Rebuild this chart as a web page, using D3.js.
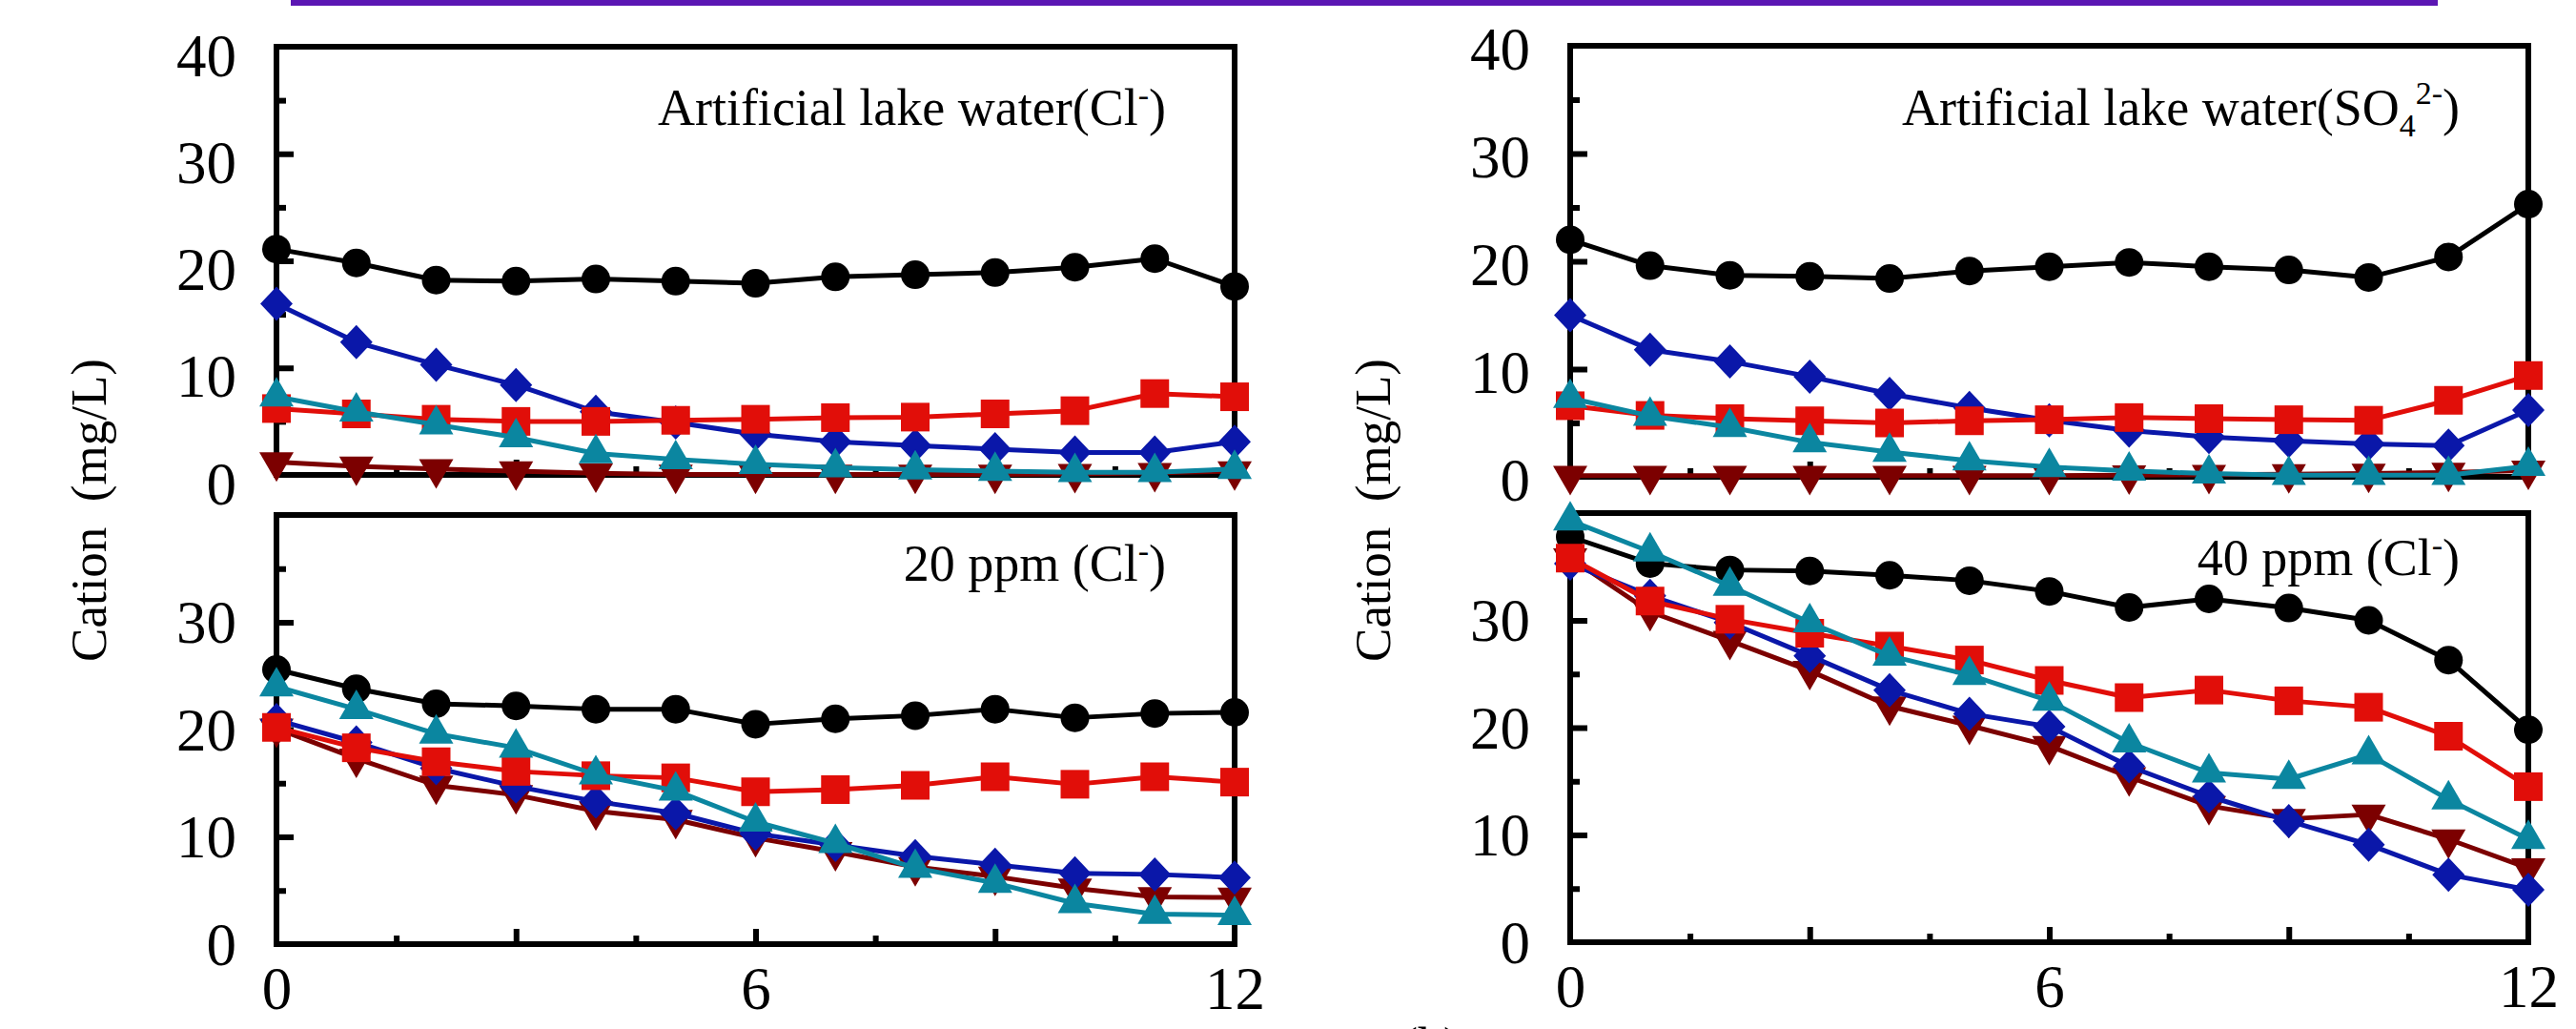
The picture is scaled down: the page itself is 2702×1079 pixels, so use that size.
<!DOCTYPE html>
<html><head><meta charset="utf-8">
<script src="https://cdn.jsdelivr.net/npm/d3@7"></script>
<style>body{margin:0;background:#fff;} svg{display:block;}</style>
</head><body>
<svg id="c" width="2702" height="1079"></svg>
<script>
// ---------- data ----------
const hours = [0,1,2,3,4,5,6,7,8,9,10,11,12];
const xTickLabels = [0,6,12];
const yTickLabelsTop = [0,10,20,30,40];
const yTickLabelsBottom = [0,10,20,30];
const panelTitles = ["Artificial lake water(Cl-)", "20 ppm (Cl-)", "Artificial lake water(SO4 2-)", "40 ppm (Cl-)"];
const yAxisTitle = "Cation\u2002(mg/L)";
const xAxisTitle = "Time\u2002(h)";

// Artificial lake water (Cl-)
const lakeClBlack   = [21.1,19.8,18.2,18.1,18.3,18.1,17.9,18.5,18.7,18.9,19.4,20.2,17.6];
const lakeClBlue    = [16.0,12.4,10.3,8.4,5.9,4.9,3.8,3.1,2.75,2.4,2.1,2.1,3.1];
const lakeClRed     = [6.2,5.7,5.2,5.0,5.0,5.1,5.2,5.35,5.4,5.7,6.0,7.6,7.3];
const lakeClTeal    = [7.3,5.9,4.7,3.5,2.0,1.45,1.0,0.7,0.5,0.35,0.25,0.25,0.55];
const lakeClDarkRed = [1.2,0.8,0.55,0.35,0.15,0.05,0.05,0.05,0.05,0.05,0.1,0.2,0.35];

// 20 ppm (Cl-)
const ppm20Black   = [25.6,23.8,22.4,22.2,21.9,21.9,20.5,21.0,21.3,21.9,21.1,21.5,21.6];
const ppm20Blue    = [20.9,18.8,16.4,14.7,13.3,12.2,10.3,9.25,8.2,7.4,6.6,6.5,6.2];
const ppm20Red     = [20.2,18.3,17.0,16.1,15.7,15.5,14.2,14.4,14.8,15.6,14.9,15.6,15.1];
const ppm20Teal    = [24.0,21.9,19.6,18.3,15.8,14.3,11.4,9.4,7.1,5.7,3.8,2.8,2.7];
const ppm20DarkRed = [20.1,17.3,14.8,13.9,12.4,11.6,9.9,8.6,7.2,6.3,5.2,4.4,4.35];

// Artificial lake water (SO4 2-)
const lakeSO4Black   = [22.0,19.6,18.7,18.6,18.4,19.1,19.5,19.9,19.5,19.2,18.5,20.4,25.3];
const lakeSO4Blue    = [15.0,11.8,10.7,9.3,7.7,6.4,5.25,4.3,3.7,3.35,3.05,2.9,6.2];
const lakeSO4Red     = [6.6,5.7,5.4,5.2,5.0,5.2,5.3,5.5,5.4,5.3,5.25,7.1,9.4];
const lakeSO4Teal    = [7.3,5.65,4.6,3.2,2.3,1.5,0.9,0.55,0.3,0.15,0.15,0.15,1.0];
const lakeSO4DarkRed = [0.1,0.1,0.1,0.1,0.1,0.1,0.1,0.15,0.2,0.25,0.3,0.4,0.6];

// 40 ppm (Cl-)
const ppm40Black   = [37.8,35.3,34.7,34.6,34.2,33.7,32.7,31.2,32.0,31.15,30.0,26.3,19.8];
const ppm40Blue    = [35.3,32.3,29.8,26.7,23.5,21.3,20.1,16.4,13.6,11.3,9.1,6.3,4.9];
const ppm40Red     = [35.8,31.8,30.1,28.8,27.6,26.3,24.4,22.8,23.5,22.5,21.9,19.2,14.5];
const ppm40Teal    = [39.3,36.4,33.2,29.8,26.7,24.9,22.5,18.6,15.8,15.2,17.5,13.3,9.6];
const ppm40DarkRed = [35.8,30.8,28.1,25.3,22.0,20.2,18.3,15.4,12.7,11.5,11.9,9.6,6.9];

// ---------- styles / layout ----------
const colors = {black:"#000000", red:"#e10e09", blue:"#0a17a9", teal:"#0b86a0", darkred:"#7c0000"};
const FONT = "'Liberation Serif','Times New Roman',serif";

const shapes = {
  circle: d3.symbol().type(d3.symbolCircle).size(Math.PI*15*15)(),
  square: "M-15,-15H15V15H-15Z",
  diamond: "M0,-18L17,0L0,18L-17,0Z",
  triUp: "M0,-20.7L18,10.3L-18,10.3Z",
  triDown: "M0,20.7L18,-10.3L-18,-10.3Z"
};

const panels = [
  {x0:290, x1:1295, yb:498, yt:49, lblOff:9, xLabels:false, yLabels:yTickLabelsTop, title:0, titleY:131,
   series:[["darkred",lakeClDarkRed,"triDown"],["blue",lakeClBlue,"diamond"],["black",lakeClBlack,"circle"],["red",lakeClRed,"square"],["teal",lakeClTeal,"triUp"]]},
  {x0:290, x1:1295, yb:990, yt:540, lblOff:0, xLabels:true, yLabels:yTickLabelsBottom, title:1, titleY:609,
   series:[["darkred",ppm20DarkRed,"triDown"],["blue",ppm20Blue,"diamond"],["black",ppm20Black,"circle"],["red",ppm20Red,"square"],["teal",ppm20Teal,"triUp"]]},
  {x0:1647, x1:2652, yb:500, yt:48, lblOff:3, xLabels:false, yLabels:yTickLabelsTop, title:2, titleY:131,
   series:[["darkred",lakeSO4DarkRed,"triDown"],["blue",lakeSO4Blue,"diamond"],["black",lakeSO4Black,"circle"],["red",lakeSO4Red,"square"],["teal",lakeSO4Teal,"triUp"]]},
  {x0:1647, x1:2652, yb:988, yt:538, lblOff:0, xLabels:true, yLabels:yTickLabelsBottom, title:3, titleY:603,
   series:[["darkred",ppm40DarkRed,"triDown"],["blue",ppm40Blue,"diamond"],["black",ppm40Black,"circle"],["red",ppm40Red,"square"],["teal",ppm40Teal,"triUp"]]}
];

const svg = d3.select("#c");
svg.append("rect").attr("width",2702).attr("height",1079).attr("fill","#fff");

// purple rule at the very top
svg.append("rect").attr("x",305).attr("y",0).attr("width",2252).attr("height",6).attr("fill","#5b16b3");

function styleTicks(sel){
  sel.select(".domain").remove();
  sel.selectAll(".tick line").attr("stroke","#000").attr("stroke-width",6);
}

panels.forEach(p => {
  const x = d3.scaleLinear().domain([0,12]).range([p.x0,p.x1]);
  const y = d3.scaleLinear().domain([0,40]).range([p.yb,p.yt]);
  const g = svg.append("g");

  // y major/minor ticks (inward)
  g.append("g").attr("transform",`translate(${p.x0},0)`)
    .call(d3.axisLeft(y).tickValues([10,20,30]).tickSize(-18).tickFormat(""))
    .call(styleTicks);
  g.append("g").attr("transform",`translate(${p.x0},0)`)
    .call(d3.axisLeft(y).tickValues([5,15,25,35]).tickSize(-10).tickFormat(""))
    .call(styleTicks);
  // x major/minor ticks (inward)
  g.append("g").attr("transform",`translate(0,${p.yb})`)
    .call(d3.axisBottom(x).tickValues([3,6,9]).tickSize(-16).tickFormat(""))
    .call(styleTicks);
  g.append("g").attr("transform",`translate(0,${p.yb})`)
    .call(d3.axisBottom(x).tickValues([1.5,4.5,7.5,10.5]).tickSize(-9).tickFormat(""))
    .call(styleTicks);

  // y labels
  const yl = g.append("g").attr("transform",`translate(${p.x0},${p.lblOff+1})`)
    .call(d3.axisLeft(y).tickValues(p.yLabels).tickSize(0).tickPadding(42).tickFormat(d3.format("d")));
  yl.select(".domain").remove();
  yl.selectAll("text").attr("font-family",FONT).attr("font-size",63).attr("fill","#000");

  if (p.xLabels) {
    const xl = g.append("g").attr("transform",`translate(0,${p.yb})`)
      .call(d3.axisBottom(x).tickValues(xTickLabels).tickSize(0).tickPadding(23).tickFormat(d3.format("d")));
    xl.select(".domain").remove();
    xl.selectAll("text").attr("font-family",FONT).attr("font-size",63).attr("fill","#000");
  }

  // frame
  g.append("rect").attr("x",p.x0).attr("y",p.yt).attr("width",p.x1-p.x0).attr("height",p.yb-p.yt)
    .attr("fill","none").attr("stroke","#000").attr("stroke-width",6);

  // panel title
  const t = g.append("text").attr("x",p.x1-72).attr("y",p.titleY).attr("text-anchor","end")
    .attr("font-family",FONT).attr("font-size",54).attr("fill","#000");
  const title = panelTitles[p.title];
  if (p.title === 2) {
    t.append("tspan").text("Artificial lake water(SO");
    t.append("tspan").attr("dy",12).attr("font-size",34).text("4");
    t.append("tspan").attr("dy",-34).attr("font-size",34).text("2-");
    t.append("tspan").attr("dy",22).text(")");
  } else {
    const base = title.replace("-)","");
    t.append("tspan").text(base);
    t.append("tspan").attr("dy",-20).attr("font-size",34).text("-");
    t.append("tspan").attr("dy",20).text(")");
  }

  // series
  const line = d3.line().x((d,i)=>x(hours[i])).y(d=>y(d));
  p.series.forEach(([c, vals, shp]) => {
    g.append("path").datum(vals).attr("d",line).attr("fill","none")
      .attr("stroke",colors[c]).attr("stroke-width",5).attr("stroke-linejoin","round");
    g.selectAll(null).data(vals).enter().append("path")
      .attr("d",shapes[shp])
      .attr("transform",(d,i)=>`translate(${x(hours[i])},${y(d)})`)
      .attr("fill",colors[c]);
  });
});

// y axis titles
[111, 1458].forEach(cx => {
  svg.append("text").attr("transform",`translate(${cx},535) rotate(-90)`)
    .attr("text-anchor","middle").attr("font-family",FONT).attr("font-size",53)
    .attr("fill","#000").text(yAxisTitle);
});

// cut-off texts at the bottom edge
svg.append("text").attr("x",1330).attr("y",1115).attr("font-family",FONT).attr("font-size",54).attr("fill","#000").text(xAxisTitle);
svg.append("text").attr("x",37).attr("y",1116).attr("font-family",FONT).attr("font-size",54).attr("fill","#000").text("C");
</script>
</body></html>
